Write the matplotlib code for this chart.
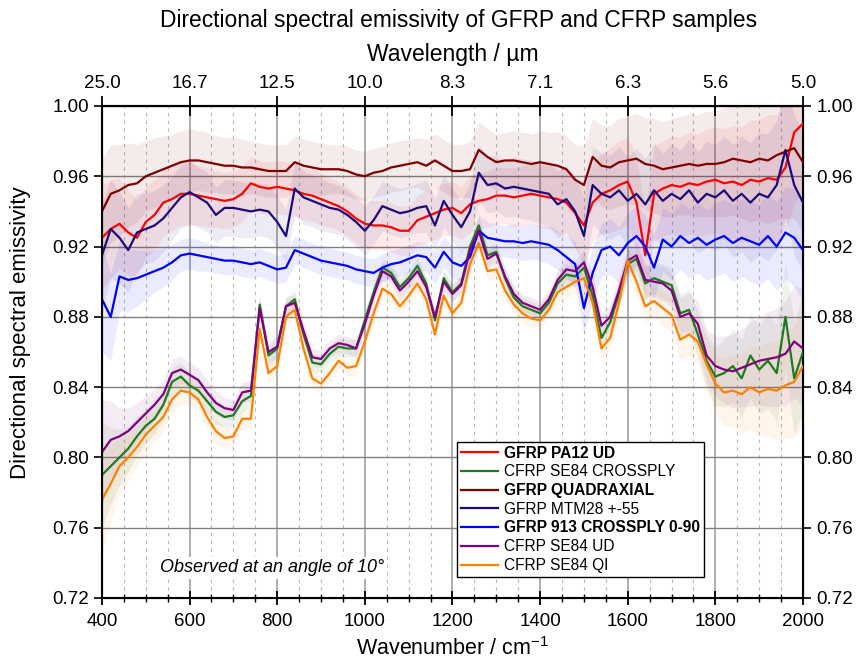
import numpy as np
import matplotlib
matplotlib.use("Agg")
from matplotlib import pyplot as plt
from matplotlib.ticker import MultipleLocator, FixedLocator, FixedFormatter

plt.rcParams['font.family'] = ['Liberation Sans', 'DejaVu Sans']
plt.rcParams['mathtext.fontset'] = 'custom'
plt.rcParams['mathtext.rm'] = 'Liberation Sans'

# wavenumber grid, cm^-1 (values read every 20 cm^-1)
wavenumber = np.arange(400, 2001, 20)
wavelength_labels = ['25.0', '16.7', '12.5', '10.0', '8.3', '7.1', '6.3', '5.6', '5.0']

pa12_ud = [0.925, 0.930, 0.933, 0.928, 0.925, 0.934, 0.938, 0.945, 0.947, 0.950,
           0.950, 0.949, 0.948, 0.947, 0.946, 0.947, 0.950, 0.956, 0.954, 0.953,
           0.954, 0.953, 0.952, 0.950, 0.949, 0.947, 0.945, 0.943, 0.940, 0.936,
           0.933, 0.932, 0.932, 0.931, 0.929, 0.929, 0.935, 0.937, 0.939, 0.941,
           0.942, 0.939, 0.944, 0.946, 0.947, 0.949, 0.949, 0.948, 0.949, 0.950,
           0.949, 0.948, 0.947, 0.945, 0.939, 0.932, 0.945, 0.950, 0.952, 0.955,
           0.957, 0.945, 0.915, 0.950, 0.953, 0.955, 0.954, 0.956, 0.955, 0.957,
           0.958, 0.956, 0.957, 0.955, 0.958, 0.957, 0.959, 0.958, 0.965, 0.985,
           0.990]
se84_crossply = [0.790, 0.795, 0.800, 0.805, 0.812, 0.818, 0.822, 0.830, 0.843, 0.846,
                 0.841, 0.838, 0.832, 0.826, 0.823, 0.824, 0.832, 0.835, 0.887, 0.858,
                 0.862, 0.886, 0.890, 0.870, 0.854, 0.853, 0.859, 0.863, 0.862, 0.862,
                 0.878, 0.894, 0.908, 0.905, 0.897, 0.902, 0.909, 0.899, 0.878, 0.902,
                 0.894, 0.899, 0.920, 0.932, 0.915, 0.917, 0.902, 0.891, 0.886, 0.884,
                 0.882, 0.888, 0.899, 0.904, 0.903, 0.908, 0.892, 0.868, 0.877, 0.893,
                 0.910, 0.913, 0.899, 0.902, 0.900, 0.898, 0.882, 0.884, 0.870, 0.855,
                 0.846, 0.848, 0.852, 0.845, 0.858, 0.850, 0.855, 0.848, 0.880, 0.845,
                 0.860]
quadraxial = [0.940, 0.950, 0.952, 0.955, 0.956, 0.960, 0.962, 0.964, 0.966, 0.968,
              0.969, 0.969, 0.968, 0.967, 0.966, 0.966, 0.965, 0.965, 0.964, 0.963,
              0.963, 0.963, 0.968, 0.966, 0.965, 0.964, 0.964, 0.964, 0.963, 0.961,
              0.960, 0.962, 0.963, 0.965, 0.966, 0.967, 0.968, 0.966, 0.969, 0.966,
              0.963, 0.963, 0.964, 0.975, 0.971, 0.968, 0.969, 0.969, 0.968, 0.967,
              0.968, 0.967, 0.966, 0.964, 0.958, 0.955, 0.971, 0.966, 0.965, 0.968,
              0.969, 0.970, 0.967, 0.966, 0.964, 0.965, 0.966, 0.967, 0.966, 0.967,
              0.967, 0.968, 0.970, 0.969, 0.968, 0.970, 0.969, 0.972, 0.974, 0.976,
              0.968]
mtm28 = [0.915, 0.930, 0.925, 0.918, 0.928, 0.930, 0.932, 0.936, 0.942, 0.948,
         0.951, 0.948, 0.945, 0.938, 0.942, 0.942, 0.941, 0.940, 0.941, 0.940,
         0.934, 0.926, 0.953, 0.948, 0.946, 0.944, 0.942, 0.941, 0.938, 0.934,
         0.929, 0.935, 0.943, 0.941, 0.939, 0.940, 0.942, 0.943, 0.932, 0.946,
         0.938, 0.931, 0.940, 0.962, 0.955, 0.956, 0.953, 0.954, 0.953, 0.952,
         0.951, 0.950, 0.944, 0.947, 0.940, 0.926, 0.955, 0.950, 0.948, 0.952,
         0.946, 0.950, 0.944, 0.952, 0.946, 0.950, 0.947, 0.952, 0.945, 0.950,
         0.948, 0.952, 0.946, 0.950, 0.945, 0.950, 0.948, 0.955, 0.975, 0.955,
         0.945]
crossply_913 = [0.890, 0.880, 0.903, 0.901, 0.902, 0.904, 0.906, 0.908, 0.911, 0.915,
                0.916, 0.915, 0.914, 0.913, 0.912, 0.912, 0.911, 0.910, 0.911, 0.909,
                0.907, 0.908, 0.918, 0.916, 0.914, 0.912, 0.911, 0.910, 0.909, 0.907,
                0.906, 0.905, 0.908, 0.910, 0.911, 0.913, 0.915, 0.914, 0.908, 0.917,
                0.911, 0.909, 0.914, 0.929, 0.925, 0.924, 0.923, 0.923, 0.922, 0.923,
                0.922, 0.921, 0.918, 0.914, 0.910, 0.885, 0.905, 0.918, 0.920, 0.915,
                0.922, 0.926, 0.920, 0.908, 0.924, 0.920, 0.926, 0.922, 0.925, 0.921,
                0.924, 0.926, 0.922, 0.925, 0.923, 0.921, 0.926, 0.920, 0.928, 0.925,
                0.918]
se84_ud = [0.803, 0.810, 0.812, 0.815, 0.820, 0.825, 0.830, 0.836, 0.848, 0.850,
           0.847, 0.844, 0.837, 0.831, 0.828, 0.827, 0.837, 0.838, 0.885, 0.860,
           0.863, 0.886, 0.888, 0.872, 0.857, 0.856, 0.862, 0.865, 0.864, 0.862,
           0.876, 0.892, 0.906, 0.903, 0.895, 0.900, 0.906, 0.897, 0.880, 0.900,
           0.893, 0.898, 0.918, 0.929, 0.913, 0.916, 0.903, 0.893, 0.888, 0.886,
           0.884, 0.890, 0.901, 0.907, 0.906, 0.911, 0.897, 0.875, 0.880, 0.895,
           0.912, 0.915, 0.901, 0.900, 0.899, 0.895, 0.880, 0.882, 0.876, 0.858,
           0.852, 0.850, 0.849, 0.851, 0.853, 0.855, 0.856, 0.857, 0.859, 0.866,
           0.862]
se84_qi = [0.776, 0.785, 0.795, 0.800, 0.806, 0.813, 0.818, 0.823, 0.833, 0.838,
           0.837, 0.833, 0.823, 0.815, 0.811, 0.812, 0.822, 0.822, 0.873, 0.848,
           0.852, 0.880, 0.884, 0.862, 0.845, 0.842, 0.848, 0.855, 0.851, 0.852,
           0.866, 0.882, 0.896, 0.893, 0.886, 0.892, 0.899, 0.890, 0.870, 0.892,
           0.882, 0.888, 0.910, 0.922, 0.906, 0.907, 0.895, 0.887, 0.882, 0.879,
           0.878, 0.884, 0.894, 0.897, 0.900, 0.902, 0.888, 0.862, 0.868, 0.888,
           0.912, 0.900, 0.886, 0.889, 0.885, 0.881, 0.867, 0.870, 0.866, 0.853,
           0.842, 0.837, 0.838, 0.836, 0.840, 0.837, 0.839, 0.838, 0.841, 0.843,
           0.852]

# half widths of the shaded spread bands
sd_gfrp = [0.030, 0.028, 0.026, 0.024, 0.022, 0.020, 0.020, 0.019, 0.018, 0.018,
           0.018, 0.017, 0.017, 0.016, 0.016, 0.016, 0.016, 0.015, 0.015, 0.015,
           0.015, 0.015, 0.015, 0.015, 0.015, 0.015, 0.014, 0.014, 0.014, 0.014,
           0.014, 0.014, 0.014, 0.014, 0.014, 0.014, 0.014, 0.015, 0.015, 0.015,
           0.015, 0.015, 0.016, 0.016, 0.016, 0.016, 0.016, 0.017, 0.017, 0.017,
           0.018, 0.018, 0.019, 0.019, 0.020, 0.022, 0.022, 0.023, 0.024, 0.025,
           0.025, 0.026, 0.026, 0.027, 0.027, 0.028, 0.028, 0.029, 0.029, 0.030,
           0.030, 0.031, 0.032, 0.033, 0.034, 0.035, 0.036, 0.037, 0.038, 0.040,
           0.040]
sd_913 = [0.030, 0.025, 0.020, 0.018, 0.016, 0.014, 0.012, 0.011, 0.010, 0.009,
          0.009, 0.009, 0.008, 0.008, 0.008, 0.008, 0.008, 0.008, 0.008, 0.008,
          0.008, 0.008, 0.008, 0.008, 0.008, 0.008, 0.008, 0.008, 0.008, 0.008,
          0.008, 0.008, 0.008, 0.008, 0.008, 0.008, 0.008, 0.008, 0.009, 0.009,
          0.009, 0.009, 0.009, 0.009, 0.009, 0.009, 0.009, 0.010, 0.010, 0.010,
          0.010, 0.011, 0.011, 0.012, 0.013, 0.015, 0.015, 0.015, 0.016, 0.016,
          0.017, 0.017, 0.018, 0.018, 0.018, 0.019, 0.019, 0.020, 0.020, 0.020,
          0.021, 0.021, 0.022, 0.022, 0.023, 0.023, 0.024, 0.025, 0.026, 0.028,
          0.030]
sd_cfrp = [0.030, 0.022, 0.016, 0.013, 0.011, 0.010, 0.009, 0.008, 0.008, 0.008,
           0.007, 0.007, 0.007, 0.007, 0.006, 0.006, 0.006, 0.006, 0.006, 0.006,
           0.006, 0.005, 0.005, 0.005, 0.005, 0.005, 0.005, 0.005, 0.005, 0.005,
           0.005, 0.005, 0.005, 0.005, 0.005, 0.005, 0.005, 0.005, 0.005, 0.005,
           0.005, 0.005, 0.005, 0.005, 0.005, 0.005, 0.005, 0.005, 0.005, 0.005,
           0.005, 0.005, 0.006, 0.006, 0.006, 0.007, 0.007, 0.007, 0.007, 0.008,
           0.008, 0.008, 0.009, 0.009, 0.010, 0.010, 0.011, 0.012, 0.013, 0.015,
           0.017, 0.019, 0.021, 0.022, 0.024, 0.025, 0.027, 0.028, 0.030, 0.032,
           0.034]

series = [
    ('GFRP PA12 UD', pa12_ud, sd_gfrp, '#ff0000', 'bold'),
    ('CFRP SE84 CROSSPLY', se84_crossply, sd_cfrp, '#1e7b1e', 'normal'),
    ('GFRP QUADRAXIAL', quadraxial, sd_gfrp, '#800000', 'bold'),
    ('GFRP MTM28 +-55', mtm28, sd_gfrp, '#1c0a78', 'normal'),
    ('GFRP 913 CROSSPLY 0-90', crossply_913, sd_913, '#0000ff', 'bold'),
    ('CFRP SE84 UD', se84_ud, sd_cfrp, '#800080', 'normal'),
    ('CFRP SE84 QI', se84_qi, sd_cfrp, '#ff8000', 'normal'),
]

fig = plt.figure(figsize=(8.59, 6.64), dpi=100)
ax = fig.add_axes([0.1187, 0.0994, 0.8161, 0.741])

for name, vals, sd, col, w in series:
    v = np.array(vals)
    s = np.array(sd)
    ax.fill_between(wavenumber, v - s, v + s, color=col, alpha=0.08, lw=0, zorder=2)
for name, vals, sd, col, w in series:
    ax.plot(wavenumber, vals, color=col, lw=1.6, label=name, zorder=3)

ax.set_xlim(400, 2000)
ax.set_ylim(0.72, 1.00)
ax.xaxis.set_major_locator(MultipleLocator(200))
ax.xaxis.set_minor_locator(MultipleLocator(50))
ax.yaxis.set_major_locator(MultipleLocator(0.04))
ax.yaxis.set_major_formatter(matplotlib.ticker.FormatStrFormatter('%.2f'))
ax.grid(which='major', axis='x', color='#a8a8a8', lw=1.3, zorder=1)
ax.grid(which='minor', axis='x', color='#b8b8b8', lw=0.8, ls=(0, (3, 4)), zorder=1)
ax.grid(which='major', axis='y', color='#808080', lw=1.0, zorder=1)
ax.set_axisbelow(True)

ax.tick_params(axis='x', which='major', direction='inout', length=10, width=1.3,
               labelsize=13.5, top=False, pad=6)
ax.tick_params(axis='x', which='minor', direction='inout', length=6, width=1.0)
ax.tick_params(axis='y', which='major', direction='out', length=6, width=1.2,
               labelsize=13.5, right=True, labelright=True)
for sp in ax.spines.values():
    sp.set_linewidth(1.5)

ax.set_xlabel('Wavenumber / cm$^{-1}$', fontsize=15.5, labelpad=5)
ax.set_ylabel('Directional spectral emissivity', fontsize=16)
ax.yaxis.set_label_coords(-0.101, 0.539)

top = ax.twiny()
top.set_xlim(ax.get_xlim())
top.xaxis.set_major_locator(FixedLocator(list(range(400, 2001, 200))))
top.xaxis.set_major_formatter(FixedFormatter(wavelength_labels))
top.tick_params(axis='x', direction='inout', length=14, width=1.3, labelsize=13.5, pad=3)
top.set_xlabel('Wavelength / \u00b5m', fontsize=16.5, labelpad=10.5)
top.spines['top'].set_linewidth(1.5)

fig.text(0.534, 1 - 20 / 664, 'Directional spectral emissivity of GFRP and CFRP samples',
         fontsize=16.4, ha='center', va='center')

leg = ax.legend(loc='lower left', bbox_to_anchor=(0.506, 0.043), fontsize=11.2,
                frameon=True, fancybox=False, framealpha=1, edgecolor='black',
                handlelength=2.4, handletextpad=0.4, borderpad=0.25, labelspacing=0.24,
                borderaxespad=0)
leg.get_frame().set_linewidth(1.0)
leg.set_zorder(5)
for txt, (name, vals, sd, col, w) in zip(leg.get_texts(), series):
    txt.set_fontweight(w)

ax.text(0.083, 0.052, 'Observed at an angle of 10\u00b0', transform=ax.transAxes,
        fontsize=13, style='italic', zorder=5,
        bbox=dict(facecolor='white', edgecolor='none', pad=2))

fig.savefig('out.png', dpi=100)
